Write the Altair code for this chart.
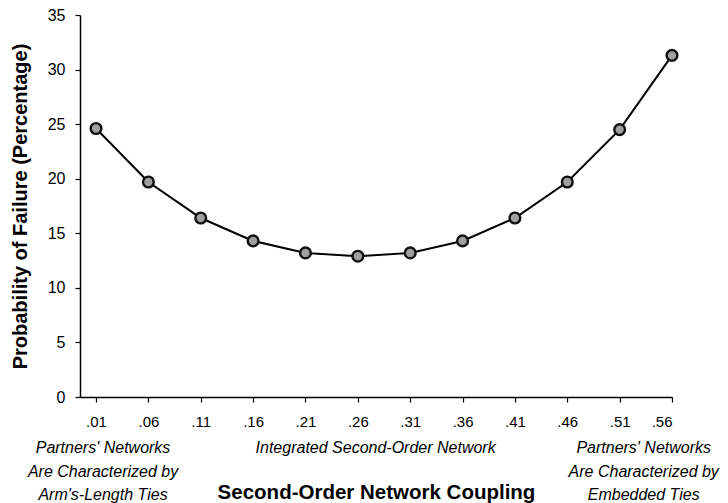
import altair as alt
import pandas as pd

coupling = [0.01, 0.06, 0.11, 0.16, 0.21, 0.26, 0.31, 0.36, 0.41, 0.46, 0.51, 0.56]
failure_pct = [24.6, 19.7, 16.4, 14.3, 13.2, 12.9, 13.2, 14.3, 16.4, 19.7, 24.5, 31.3]
left_note = ["Partners' Networks", "Are Characterized by", "Arm's-Length Ties"]
mid_note = ["Integrated Second-Order Network"]
right_note = ["Partners'  Networks", "Are Characterized by", "Embedded Ties"]

df = pd.DataFrame({"coupling": coupling, "failure": failure_pct})
FONT = "Liberation Sans"

x_enc = alt.X(
    "coupling:Q",
    scale=alt.Scale(domain=[-0.0053, 0.56], nice=False, zero=False),
    axis=alt.Axis(
        values=coupling,
        labelExpr="substring(format(datum.value, '.2f'), 1)",
        title="Second-Order Network Coupling",
        titleFont=FONT, titleFontSize=20.5, titleFontWeight="bold", titleColor="black",
        titlePadding=53,
        labelFont=FONT, labelFontSize=15, labelColor="black", labelPadding=12,
        tickSize=5, tickColor="black", domainColor="black", domainWidth=1.5, tickWidth=1.2,
        grid=False,
    ),
)
y_enc = alt.Y(
    "failure:Q",
    scale=alt.Scale(domain=[0, 35], nice=False),
    axis=alt.Axis(
        values=[0, 5, 10, 15, 20, 25, 30, 35],
        title="Probability of Failure (Percentage)",
        titleFont=FONT, titleFontSize=20, titleFontWeight="bold", titleColor="black",
        titlePadding=17,
        labelFont=FONT, labelFontSize=16, labelColor="black", labelPadding=10,
        tickSize=5, tickColor="black", domainColor="black", domainWidth=1.5, tickWidth=1.2,
        grid=False,
    ),
)

line = alt.Chart(df).mark_line(color="black", strokeWidth=2).encode(x=x_enc, y=y_enc)
pts = alt.Chart(df).mark_point(
    shape="circle", filled=True, fill="#a0a0a0", stroke="#111111", strokeWidth=2.4,
    size=115, opacity=1,
).encode(x="coupling:Q", y="failure:Q")

def note(lines, xval):
    return alt.Chart(pd.DataFrame({"t": [lines]})).mark_text(
        font=FONT, fontSize=16, fontStyle="italic", color="black",
        align="center", baseline="top", lineHeight=23.5,
    ).encode(x=alt.datum(xval), y=alt.value(425), text="t:N")

chart = alt.layer(
    line, pts,
    note(left_note, 0.0167), note(mid_note, 0.277), note(right_note, 0.533),
).properties(
    width=592, height=382,
    autosize=alt.AutoSizeParams(type="none"),
    padding={"left": 72, "top": 7, "right": 48, "bottom": 114},
).configure_view(stroke=None)

chart.save("out.html", embed_options={"renderer": "svg", "actions": False})
